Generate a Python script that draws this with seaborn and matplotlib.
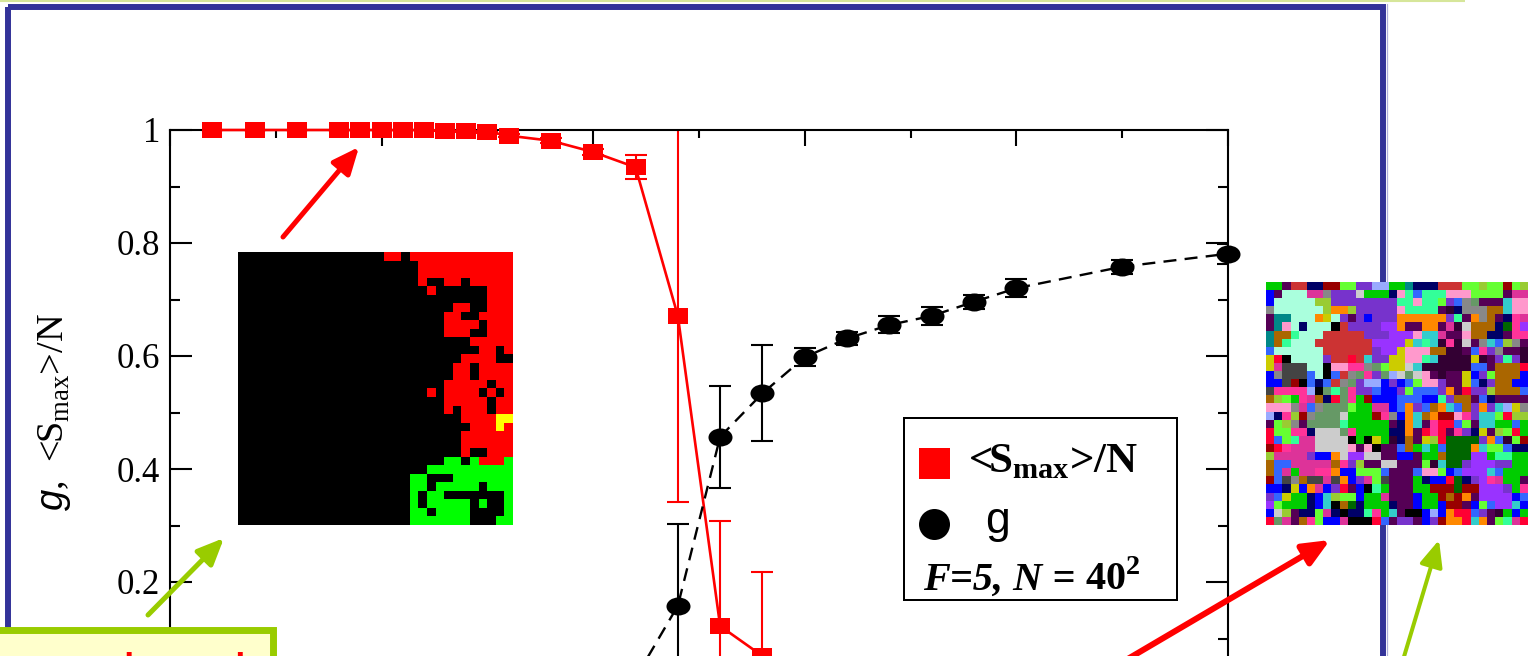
import matplotlib
matplotlib.use("Agg")
import numpy as np
import pandas as pd
import matplotlib.pyplot as plt
import seaborn as sns
from matplotlib.path import Path
from matplotlib.markers import MarkerStyle
from matplotlib.transforms import Affine2D
from matplotlib.patches import Rectangle, Ellipse
from matplotlib.ticker import FixedLocator, MultipleLocator
from matplotlib.colors import to_rgb

# ---------------- data ----------------
q_smax = [4, 8, 12, 16, 18, 20, 22, 24, 26, 28, 30, 32, 36, 40, 44, 48, 52, 56]
smax = [1.0, 1.0, 1.0, 1.0, 1.0, 1.0, 1.0, 1.0, 0.999, 0.998, 0.997, 0.990,
        0.981, 0.961, 0.934, 0.671, 0.122, 0.069]
smax_err = [0.0, 0.0, 0.0, 0.0, 0.0, 0.0, 0.0, 0.0, 0.001, 0.001, 0.002, 0.003,
            0.004, 0.006, 0.021, 0.33, 0.186, 0.149]

q_g = [44, 48, 52, 56, 60, 64, 68, 72, 76, 80, 90, 100]
g_vals = [0.03, 0.158, 0.457, 0.534, 0.598, 0.631, 0.655, 0.671, 0.696, 0.720, 0.758, 0.781]
g_err = [0.01, 0.145, 0.09, 0.085, 0.016, 0.012, 0.015, 0.016, 0.012, 0.016, 0.012, 0.018]

xtick_values = [0, 20, 40, 60, 80, 100]
ytick_values = [0.2, 0.4, 0.6, 0.8, 1.0]
ytick_labels = ["0.2", "0.4", "0.6", "0.8", "1"]

ylabel_text = "$g$,  <S$_{\\mathrm{max}}$>/N"
legend_smax = "<S$_{\\mathbf{max}}$>/N"
legend_g = "g"
legend_params = "F=5, N ="
legend_size = "40$^{\\mathbf{2}}$"
caption_text = "ordered"

# snapshot of the ordered phase (right part of the lattice, 32 x 32 cells)
ordered_rows = [
    "krrkrrrr rrrrrrrr", "kkkkkrrr rrrrrrrr", "kkkkkrrr rrrrrrrr", "kkkkkrkk rrkrrrrr",
    "kkkkkkrk kkkkkrrr", "kkkkkkkk kkkkkrrr", "kkkkkkkk krrkkrrr", "kkkkkkkk rrkkrrrr",
    "kkkkkkkk rrrrkrrr", "kkkkkkkk rrrkkrrr", "kkkkkkkk kkkrrrrr", "kkkkkkkk kkkkrrkr",
    "kkkkkkkk kkrrrrkk", "kkkkkkkk krrkrrrr", "kkkkkkkk krrkrrrr", "kkkkkkkk rrrrrkrr",
    "kkkkkkrk rrrrkrkr", "kkkkkkkk rrrrrkrr", "kkkkkkkk rkrrrkrr", "kkkkkkkk kkrrrryy",
    "kkkkkkkk kkkrrryr", "kkkkkkkk kkrrrrrr", "kkkkkkkk kkrrrrrr", "kkkkkkkk kkrkkrrr",
    "kkkkkkkk ggkgrrrg", "kkkkkkgg gggggggg", "kkkkggkk kggggggg", "kkkkggkg ggggkggg",
    "kkkkgkgg kkkkkkkg", "kkkkgkgg gggkgkkg", "kkkkggkg gggkkkkg", "kkkkgggg gggkkkgg",
]
ordered_colors = {"k": "#000000", "r": "#ff0000", "g": "#00ff00", "y": "#ffff00"}

# snapshot of the disordered phase (30 x 32 cells)
disordered_rows = [
    "ggBssiim mlleeDDg gtiiisss lljllmlj", "bBaaaffq eeewgggi pAzAAApp pllllBff",
    "baaaaajj eeeeeeee AApAAlez qvBBBcpp", "qaaaaaaj oojeeeee pAAAABdi qqqnncpp",
    "Bttaaaoy aeBebeee ooooooeA BoqnBiCf", "Btpaiaaa kseeeeuu oBBooBfd wnnnihCu",
    "tnnAaaas sssseeeu uupccfBB pnniiBCC", "tnAaaass sssssuuu uycAcdCd wBqczjqB",
    "zaaaaaas ssssseuu ypppnndd BzCeqBBd", "yrkaaaae ssrsceey yppAcddd dydBeAed",
    "yfxxxaak ppCCqvly ywcddddd dzzBnnnr", "bqxxxzak zsqvCevD wvwpBdBB ybelnnnb",
    "bbxmkziz sqveDDbe bzlppeBB yziennbb", "xCCCCDkv AvCeezbb elzzzeoB reejnnnz",
    "njlgCfni rvCgmbbb zzzbbAen nBziBBBB", "pppqfzqv vvlggffb zoeznocz neoecDyq",
    "DiCjmqvv vwgggmCq bocnommp Cecclrjj", "BljqBvvv vAgggggB iocBCrrz lBccggzg",
    "rllCCiww wvCggggi ioBrCrBC eiyBjlrg", "rzlAffww wwkgkygd inByjrhh hheozdlm",
    "mrCfffww wwpBpkBB zngcgzhh hocllzii", "jffffebb owuuwwBB bbBggnhh huugAAgg",
    "nzzfffff nCejBBww BBBldchh euuueegg", "nzfgffCC obblllzB BBzpplbz uuuczggg",
    "mzxqnxxf xobeflxB BBgibbrh ieuCfggB", "bbiybofb erBbkAgB BBggmmmh mmuuuegC",
    "ezyggibc jllbggfB BBbggmnm oBuuuubz", "ulgggibc knhigggi BBbggbmm Bblzuucb",
    "bwjBiilf ikiiACgc BkkbDbor rzeBdgbg", "rvfBnClb bfkkkrzB eeBbemoo rcoBlAfr",
]
disordered_colors = {
    "a": "#aaffdd", "b": "#0000ff", "c": "#33cccc", "d": "#330033", "e": "#7733cc",
    "f": "#dd3399", "g": "#00cc00", "h": "#006600", "i": "#000066", "j": "#99cc33",
    "k": "#000000", "l": "#66ff33", "m": "#990000", "n": "#aa6600", "o": "#ff8800",
    "p": "#ff99cc", "q": "#888888", "r": "#ff0033", "s": "#cc3333", "t": "#008888",
    "u": "#9933ff", "v": "#669966", "w": "#cccccc", "x": "#444444", "y": "#cccc00",
    "z": "#3366ff", "A": "#33ff99", "B": "#550055", "C": "#ff3399", "D": "#99aaff",
}


def lattice_rgb(rows, colors, width, pad_left=""):
    grid = []
    for row in rows:
        cells = (pad_left + row.replace(" ", ""))[:width]
        cells = cells.ljust(width, cells[-1])
        grid.append([to_rgb(colors[c]) for c in cells])
    return np.array(grid)


# ---------------- style ----------------
sns.set_theme(style="ticks")
plt.rcParams["font.family"] = ["Liberation Serif", "DejaVu Serif"]
plt.rcParams["mathtext.fontset"] = "custom"
plt.rcParams["mathtext.rm"] = "Liberation Serif"
plt.rcParams["mathtext.it"] = "Liberation Sans:italic"
plt.rcParams["mathtext.bf"] = "Liberation Serif:bold"
for key in ("text.color", "axes.labelcolor", "xtick.color", "ytick.color", "axes.edgecolor"):
    plt.rcParams[key] = "black"

W, H = 1531, 656
fig = plt.figure(figsize=(W / 100, H / 100), dpi=100)
fig.patch.set_facecolor("white")


def box(x0, y0, x1, y1):
    """pixel box (top-left origin) -> figure fraction rectangle"""
    return [x0 / W, 1 - y1 / H, (x1 - x0) / W, (y1 - y0) / H]


def overlay(z):
    o = fig.add_axes([0, 0, 1, 1], zorder=z)
    o.set_xlim(0, W)
    o.set_ylim(H, 0)
    o.axis("off")
    o.patch.set_alpha(0)
    return o


bg = overlay(0)
ax = fig.add_axes(box(170, 130, 1228, 695), zorder=1)
ax.set_facecolor("none")

# slide frame
bg.plot([0, 1465], [0.8, 0.8], color="#d6e69a", lw=1.5, solid_capstyle="butt")
bg.add_patch(Rectangle((8.3, 7), 1383 - 8.3, 900, fill=False,
                       edgecolor="#333399", lw=4.3))
bg.plot([1386.8, 1386.8], [4, H], color="#b0b0dc", lw=0.9)

# ---------------- main plot ----------------
square = Path([(-1, -0.76), (1, -0.76), (1, 0.76), (-1, 0.76), (-1, -0.76)],
              [Path.MOVETO, Path.LINETO, Path.LINETO, Path.LINETO, Path.CLOSEPOLY])
oval = Path.unit_circle().transformed(Affine2D().scale(1, 0.75))

red_df = pd.DataFrame({"q": q_smax, "value": smax})
g_df = pd.DataFrame({"q": q_g, "value": g_vals})

ax.errorbar(q_smax, smax, yerr=smax_err, fmt="none", ecolor="red",
            elinewidth=1.5, capsize=7.6, capthick=1.5, zorder=2)
ax.errorbar(q_g, g_vals, yerr=g_err, fmt="none", ecolor="black",
            elinewidth=1.5, capsize=7.6, capthick=1.5, zorder=2)

sns.lineplot(data=red_df, x="q", y="value", ax=ax, color="red", lw=1.9,
             marker=MarkerStyle(square), markersize=15.1, markeredgewidth=0,
             errorbar=None, clip_on=False, zorder=3)
sns.lineplot(data=g_df, x="q", y="value", ax=ax, color="black", lw=1.7,
             linestyle=(0, (5.5, 3.5)), marker=MarkerStyle(oval), markersize=17.3,
             markeredgewidth=0, errorbar=None, clip_on=False, zorder=4)

ax.set_xlim(0, 100)
ax.set_ylim(0, 1)
ax.xaxis.set_major_locator(FixedLocator(xtick_values))
ax.xaxis.set_minor_locator(MultipleLocator(10))
ax.yaxis.set_major_locator(FixedLocator(ytick_values))
ax.set_yticklabels(ytick_labels)
ax.yaxis.set_minor_locator(MultipleLocator(0.1))

ax.tick_params(axis="both", which="both", direction="in", top=True, right=True,
               bottom=True, left=True, width=1.5, color="black")
ax.tick_params(axis="x", which="both", labelbottom=False, labeltop=False)
ax.tick_params(axis="y", which="major", length=15.8, labelsize=25, pad=7)
ax.tick_params(axis="y", which="minor", length=7.5)
ax.tick_params(axis="x", which="major", length=11.5)
ax.tick_params(axis="x", which="minor", length=5.8)
for s in ax.spines.values():
    s.set_visible(True)
    s.set_linewidth(1.5)
    s.set_color("black")

ax.set_xlabel("")
ax.set_ylabel(ylabel_text, fontsize=27.5)
ax.yaxis.set_label_coords(-0.0917, 0.5)

# ---------------- lattice snapshots ----------------
left_img = fig.add_axes(box(238, 252, 513, 525), zorder=5)
left_img.imshow(lattice_rgb(ordered_rows, ordered_colors, 32, pad_left="k" * 16),
                aspect="auto", interpolation="nearest")
left_img.axis("off")

right_img = fig.add_axes(box(1266, 282, 1528, 525), zorder=5)
right_img.imshow(lattice_rgb(disordered_rows, disordered_colors, 32),
                 aspect="auto", interpolation="nearest")
right_img.axis("off")

# ---------------- foreground annotations ----------------
fg = overlay(10)

# legend box
fg.add_patch(Rectangle((904, 418), 273, 182, facecolor="white",
                       edgecolor="black", lw=1.44))
fg.add_patch(Rectangle((919, 448), 31, 31, facecolor="red", edgecolor="none"))
fg.add_patch(Ellipse((934.5, 524.5), 31, 31, facecolor="black", edgecolor="none"))
fg.text(968, 472, legend_smax, fontsize=31, fontweight="bold",
        va="baseline", ha="left")
fg.text(985, 533, legend_g, family=["Liberation Sans"], fontsize=32,
        va="baseline", ha="left")
params = fg.text(923, 590, legend_params, fontsize=29, fontweight="bold",
                 style="italic", va="baseline", ha="left")
fg.annotate(legend_size, xy=(1, 0), xycoords=params, xytext=(7, 0),
            textcoords="offset points", fontsize=29, fontweight="bold",
            va="bottom", ha="left")

# caption box at the lower left
fg.add_patch(Rectangle((-20, 629.5), 292.5, 100, facecolor="#ffffcc",
                       edgecolor="#99cc00", lw=5))
fg.text(56, 691, caption_text, color="red", fontsize=40,
        family=["Liberation Sans"], va="baseline", ha="left")


def arrow(tail, tip, color, lw_px):
    fg.annotate("", xy=tip, xytext=tail, annotation_clip=False,
                arrowprops=dict(arrowstyle="-|>,head_length=16,head_width=7",
                                color=color, lw=lw_px * 0.72, shrinkA=0,
                                shrinkB=0, mutation_scale=1))


arrow((283, 237), (359, 147), "red", 5)
arrow((148, 615), (224, 538), "#99cc00", 5)
arrow((1058, 700), (1330, 540), "red", 6)
arrow((1391, 700), (1439, 540), "#99cc00", 4)

fig.savefig("out.png", dpi=100)
